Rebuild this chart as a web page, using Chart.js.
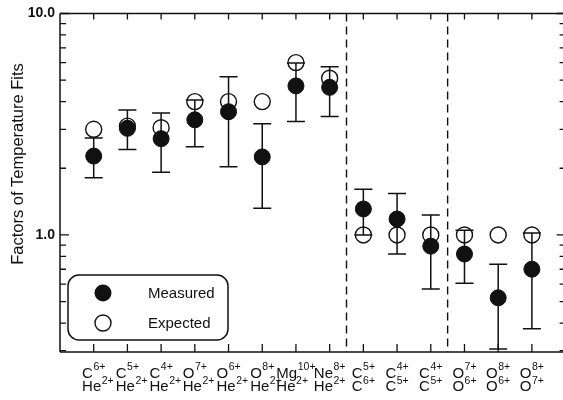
<!DOCTYPE html>
<html>
<head>
<meta charset="utf-8">
<script src="https://cdn.jsdelivr.net/npm/chart.js@4/dist/chart.umd.min.js"></script>
<style>
  html, body { margin: 0; padding: 0; background: #fff; width: 563px; height: 400px; overflow: hidden; }
  canvas { display: block; }
</style>
</head>
<body>
<canvas id="c" width="575" height="400"></canvas>
<script>
// Ion pairs: numerator ion (top row) over denominator ion (bottom row)
const numElement = ['C', 'C', 'C', 'O', 'O', 'O', 'Mg', 'Ne', 'C', 'C', 'C', 'O', 'O', 'O'];
const numCharge  = ['6+', '5+', '4+', '7+', '6+', '8+', '10+', '8+', '5+', '4+', '4+', '7+', '8+', '8+'];
const denElement = ['He', 'He', 'He', 'He', 'He', 'He', 'He', 'He', 'C', 'C', 'C', 'O', 'O', 'O'];
const denCharge  = ['2+', '2+', '2+', '2+', '2+', '2+', '2+', '2+', '6+', '5+', '5+', '6+', '6+', '7+'];

// Temperature-fit factors
const measured  = [2.27, 3.03, 2.72, 3.31, 3.60, 2.25, 4.71, 4.64, 1.31, 1.18, 0.89, 0.82, 0.52, 0.70];
const errHigh   = [2.74, 3.67, 3.55, 4.07, 5.18, 3.18, 5.98, 5.75, 1.61, 1.54, 1.23, 1.05, 0.737, 1.02];
const errLow    = [1.81, 2.43, 1.92, 2.50, 2.03, 1.32, 3.25, 3.43, 1.00, 0.82, 0.57, 0.605, 0.305, 0.377];
const expected  = [3.0, 3.1, 3.05, 4.0, 4.0, 4.0, 6.0, 5.1, 1.0, 1.0, 1.0, 1.0, 1.0, 1.0];

// Group separators (between pair positions) and y-axis ticks
const separators = [8.5, 11.5];
const yMajorTicks = [1, 10];
const yMajorLabels = ['1.0', '10.0'];
const yMinorTicks = [0.3, 0.4, 0.5, 0.6, 0.7, 0.8, 0.9, 2, 3, 4, 5, 6, 7, 8, 9];

const positions = numElement.map((_, i) => i + 1);
const ink = '#111';
const FONT = '"Liberation Sans", Arial, Helvetica, sans-serif';

function ionWidth(ctx, elem, charge, mainSize, supSize) {
  ctx.font = `${mainSize}px ${FONT}`;
  const w = ctx.measureText(elem).width;
  ctx.font = `${supSize}px ${FONT}`;
  return w + 0.5 + ctx.measureText(charge).width;
}

function drawIon(ctx, x, y, elem, charge, mainSize, supSize, rise) {
  ctx.font = `${mainSize}px ${FONT}`;
  ctx.fillText(elem, x, y);
  const w = ctx.measureText(elem).width;
  ctx.font = `${supSize}px ${FONT}`;
  ctx.fillText(charge, x + w + 0.5, y - rise);
}

const framePlugin = {
  id: 'frame',
  beforeDatasetsDraw(chart) {
    const { ctx, chartArea: a, scales: { x, y } } = chart;
    ctx.save();
    ctx.strokeStyle = ink;
    ctx.fillStyle = ink;

    // frame
    ctx.lineWidth = 1.5;
    ctx.beginPath();
    ctx.moveTo(a.left, a.top); ctx.lineTo(a.right, a.top);
    ctx.moveTo(a.left, a.top); ctx.lineTo(a.left, a.bottom);
    ctx.moveTo(a.left, a.bottom); ctx.lineTo(a.right, a.bottom);
    ctx.moveTo(a.right, a.top); ctx.lineTo(a.right, a.bottom);
    ctx.stroke();

    // category ticks, inward on bottom and top
    ctx.lineWidth = 1.3;
    ctx.beginPath();
    positions.forEach(p => {
      const px = x.getPixelForValue(p);
      ctx.moveTo(px, a.bottom); ctx.lineTo(px, a.bottom - 8);
      ctx.moveTo(px, a.top); ctx.lineTo(px, a.top + 6);
    });
    ctx.stroke();

    // log ticks, inward on left and right
    ctx.beginPath();
    yMajorTicks.forEach(v => {
      const py = y.getPixelForValue(v);
      ctx.moveTo(a.left, py); ctx.lineTo(a.left + 9, py);
      ctx.moveTo(a.right, py); ctx.lineTo(a.right - 9, py);
    });
    yMinorTicks.forEach(v => {
      const py = y.getPixelForValue(v);
      ctx.moveTo(a.left, py); ctx.lineTo(a.left + 6, py);
      ctx.moveTo(a.right, py); ctx.lineTo(a.right - 6, py);
    });
    ctx.stroke();

    // dashed group separators
    ctx.setLineDash([8, 5]);
    ctx.lineWidth = 1.4;
    ctx.beginPath();
    separators.forEach(s => {
      const px = x.getPixelForValue(s);
      ctx.moveTo(px, a.top); ctx.lineTo(px, a.bottom);
    });
    ctx.stroke();
    ctx.setLineDash([]);

    // y tick labels
    ctx.font = `bold 14px ${FONT}`;
    ctx.textAlign = 'right';
    ctx.textBaseline = 'middle';
    yMajorTicks.forEach((v, i) => {
      ctx.fillText(yMajorLabels[i], a.left - 5, y.getPixelForValue(v));
    });

    // y title
    ctx.save();
    ctx.translate(18, 164);
    ctx.rotate(-Math.PI / 2);
    ctx.textAlign = 'center';
    ctx.textBaseline = 'middle';
    ctx.font = `16.5px ${FONT}`;
    ctx.fillText('Factors of Temperature Fits', 0, 0);
    ctx.restore();

    // ion-pair labels
    ctx.textAlign = 'left';
    ctx.textBaseline = 'alphabetic';
    positions.forEach((p, i) => {
      const px = x.getPixelForValue(p);
      const w1 = ionWidth(ctx, numElement[i], numCharge[i], 15, 10.5);
      const left = px - w1 / 2;
      drawIon(ctx, left, a.bottom + 26, numElement[i], numCharge[i], 15, 10.5, 8);
      drawIon(ctx, left, a.bottom + 39, denElement[i], denCharge[i], 15, 10.5, 7);
    });
    ctx.restore();
  },
  afterDatasetDraw(chart, args) {
    // error bars sit above the open circles and below the filled ones
    if (args.index !== 1) return;
    const { ctx, scales: { x, y } } = chart;
    ctx.save();
    ctx.strokeStyle = ink;
    ctx.lineWidth = 1.5;
    ctx.beginPath();
    positions.forEach((p, i) => {
      const px = x.getPixelForValue(p);
      const yh = y.getPixelForValue(errHigh[i]);
      const yl = y.getPixelForValue(errLow[i]);
      ctx.moveTo(px, yh); ctx.lineTo(px, yl);
      ctx.moveTo(px - 9, yh); ctx.lineTo(px + 9, yh);
      ctx.moveTo(px - 9, yl); ctx.lineTo(px + 9, yl);
    });
    ctx.stroke();
    ctx.restore();
  },
  afterDraw(chart) {
    const { ctx } = chart;
    const ds = chart.data.datasets;
    ctx.save();
    ctx.strokeStyle = ink;
    ctx.lineWidth = 1.5;
    ctx.beginPath();
    ctx.roundRect(68, 275, 160, 65, 11);
    ctx.stroke();

    ctx.fillStyle = ink;
    ctx.beginPath();
    ctx.arc(103, 293, 8.5, 0, Math.PI * 2);
    ctx.fill();

    ctx.lineWidth = 1.4;
    ctx.beginPath();
    ctx.arc(103, 323, 8, 0, Math.PI * 2);
    ctx.stroke();

    ctx.font = `15px ${FONT}`;
    ctx.textAlign = 'left';
    ctx.textBaseline = 'middle';
    ctx.fillText(ds[0].label, 148, 294);
    ctx.fillText(ds[1].label, 148, 324);
    ctx.restore();
  }
};

new Chart(document.getElementById('c'), {
  type: 'scatter',
  data: {
    datasets: [
      {
        label: 'Measured',
        data: positions.map((p, i) => ({ x: p, y: measured[i] })),
        pointStyle: 'circle',
        pointRadius: 8,
        backgroundColor: ink,
        borderColor: ink,
        borderWidth: 1,
        clip: false
      },
      {
        label: 'Expected',
        data: positions.map((p, i) => ({ x: p, y: expected[i] })),
        pointStyle: 'circle',
        pointRadius: 8,
        backgroundColor: 'rgba(0,0,0,0)',
        borderColor: ink,
        borderWidth: 1.4,
        clip: false
      }
    ]
  },
  options: {
    responsive: false,
    animation: false,
    devicePixelRatio: 1,
    events: [],
    layout: { padding: { left: 60, top: 13.5, right: 8, bottom: 48 } },
    scales: {
      x: { type: 'linear', min: 0, max: 15, display: false },
      y: { type: 'logarithmic', min: 0.296, max: 10, display: false }
    },
    plugins: { legend: { display: false }, tooltip: { enabled: false } }
  },
  plugins: [framePlugin]
});
</script>
</body>
</html>
